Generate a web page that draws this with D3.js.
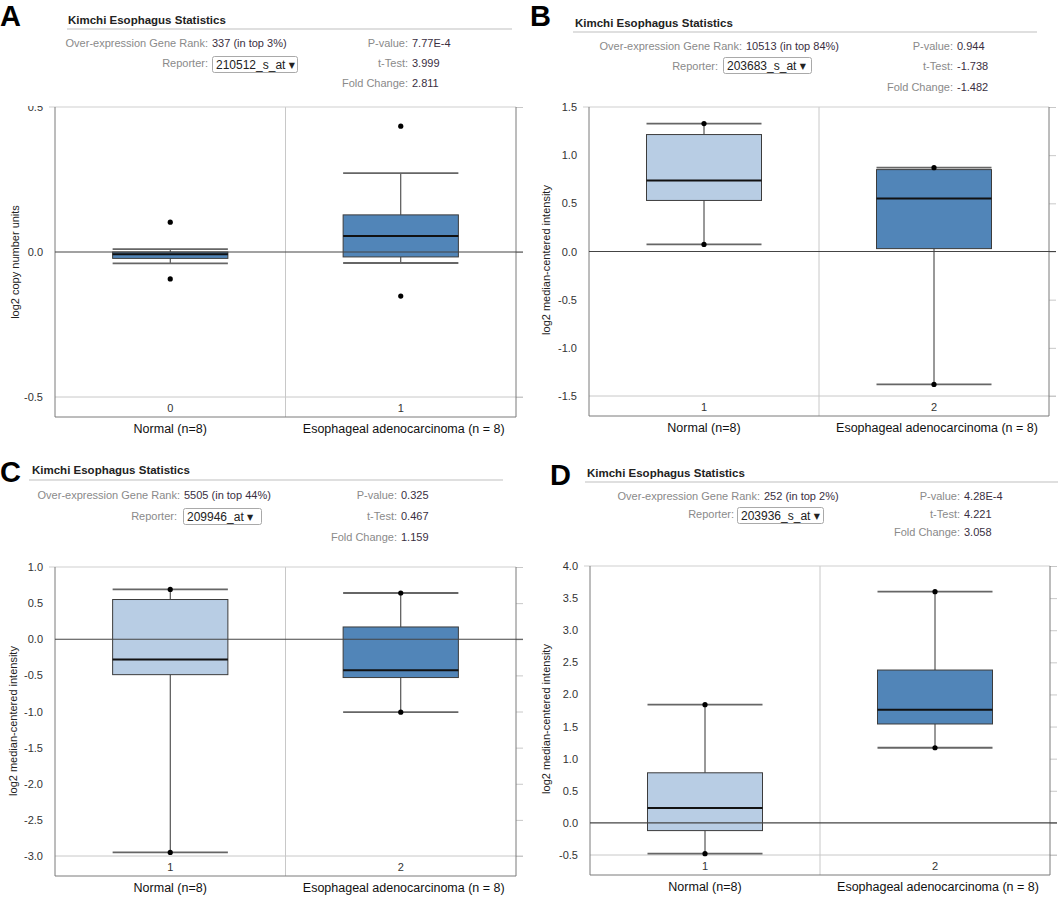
<!DOCTYPE html>
<html>
<head>
<meta charset="utf-8">
<script src="https://cdn.jsdelivr.net/npm/d3@7"></script>
<style>
  body { margin: 0; background: #fff; }
  text { font-family: "Liberation Sans", Arial, sans-serif; }
</style>
</head>
<body>
<svg id="chart" width="1058" height="900"></svg>
<script>
// ---- data ----
const panelLetters = ["A", "B", "C", "D"];
const categories = ["Normal (n=8)", "Esophageal adenocarcinoma (n = 8)"];
const xTickLabels = [["0", "1"], ["1", "2"], ["1", "2"], ["1", "2"]];
const yTitles = ["log2 copy number units", "log2 median-centered intensity",
  "log2 median-centered intensity", "log2 median-centered intensity"];
const yTicks = [
  [-0.5, 0, 0.5],
  [-1.5, -1, -0.5, 0, 0.5, 1, 1.5],
  [-3, -2.5, -2, -1.5, -1, -0.5, 0, 0.5, 1],
  [-0.5, 0, 0.5, 1, 1.5, 2, 2.5, 3, 3.5, 4]
];
const geneRanks = ["337 (in top 3%)", "10513 (in top 84%)", "5505 (in top 44%)", "252 (in top 2%)"];
const reporters = ["210512_s_at", "203683_s_at", "209946_at", "203936_s_at"];
const pValues = ["7.77E-4", "0.944", "0.325", "4.28E-4"];
const tTests = ["3.999", "-1.738", "0.467", "4.221"];
const foldChanges = ["2.811", "-1.482", "1.159", "3.058"];

// per group: [lower whisker, q1, median, q3, upper whisker]
const boxA = [[-0.039, -0.022, -0.008, 0.0, 0.01], [-0.038, -0.017, 0.055, 0.128, 0.272]];
const boxB = [[0.073, 0.53, 0.737, 1.214, 1.328], [-1.38, 0.03, 0.55, 0.85, 0.87]];
const boxC = [[-2.95, -0.49, -0.28, 0.55, 0.69], [-1.01, -0.53, -0.43, 0.17, 0.64]];
const boxD = [[-0.48, -0.12, 0.23, 0.78, 1.84], [1.17, 1.54, 1.76, 2.38, 3.6]];
// plotted points per group
const pointsA = [[0.103, -0.093], [0.434, -0.152]];
const pointsB = [[1.328, 0.073], [0.87, -1.38]];
const pointsC = [[0.69, -2.95], [0.64, -1.01]];
const pointsD = [[1.84, -0.48], [3.6, 1.17]];

const boxes = [boxA, boxB, boxC, boxD];
const points = [pointsA, pointsB, pointsC, pointsD];

// ---- layout ----
const light = "#b8cde4", dark = "#5185b8";
const layout = [
  { letter: [0, 26], title: [68, 24], line: [67, 512, 29], rows: [43, 63, 83], labelR: 208, repR: 208, statR: 408, dd: [212, 56, 85, 16],
    plot: { left: 55, right: 516, top: 107, minY: 397 }, fills: [dark, dark], yTitle: [15, 262], clipTop: 106 },
  { letter: [530, 26], title: [575, 27], line: [573, 1037, 32], rows: [46, 66, 87], labelR: 742, repR: 718, statR: 953, dd: [723, 57, 88, 16],
    plot: { left: 589, right: 1049, top: 107, minY: 396 }, fills: [light, dark], yTitle: [546, 260] },
  { letter: [0, 482], title: [32, 474], line: [29, 503, 480], rows: [495, 516, 537], labelR: 180, repR: 177, statR: 397, dd: [183, 508, 78, 16],
    plot: { left: 55, right: 516, top: 567, minY: 856 }, fills: [light, dark], yTitle: [13, 721] },
  { letter: [550, 485], title: [587, 477], line: [585, 1058, 482], rows: [496, 514, 532], labelR: 760, repR: 734, statR: 960, dd: [737, 507, 86, 16],
    plot: { left: 590, right: 1050, top: 566, minY: 855 }, fills: [light, dark], yTitle: [546, 719] }
];

const svg = d3.select("#chart");
const fmt = v => v.toFixed(1);

layout.forEach((L, i) => {
  const g = svg.append("g");

  // ---- header ----
  g.append("text")
    .attr("x", L.letter[0]).attr("y", L.letter[1])
    .style("font-family", "Arial, 'Liberation Sans', sans-serif")
    .style("font-weight", "bold").style("font-size", "29px").attr("fill", "#000")
    .text(panelLetters[i]);

  g.append("text")
    .attr("x", L.title[0]).attr("y", L.title[1])
    .style("font-weight", "bold").style("font-size", "11.5px").attr("fill", "#222")
    .text("Kimchi Esophagus Statistics");

  g.append("line")
    .attr("x1", L.line[0]).attr("x2", L.line[1])
    .attr("y1", L.line[2]).attr("y2", L.line[2])
    .attr("stroke", "#d4d4d4").attr("stroke-width", 1.5);

  g.append("text")
    .attr("x", L.labelR).attr("y", L.rows[0]).attr("dy", "0.35em")
    .attr("text-anchor", "end").style("font-size", "11px").attr("fill", "#8a8a8a")
    .text("Over-expression Gene Rank:");
  g.append("text")
    .attr("x", L.labelR + 4).attr("y", L.rows[0]).attr("dy", "0.35em")
    .style("font-size", "11px").attr("fill", "#3a2f3f")
    .text(geneRanks[i]);
  g.append("text")
    .attr("x", L.repR).attr("y", L.rows[1]).attr("dy", "0.35em")
    .attr("text-anchor", "end").style("font-size", "11px").attr("fill", "#8a8a8a")
    .text("Reporter:");

  // reporter dropdown
  g.append("rect")
    .attr("x", L.dd[0] + 0.5).attr("y", L.dd[1] + 0.5)
    .attr("width", L.dd[2]).attr("height", L.dd[3]).attr("rx", 2)
    .attr("fill", "#fff").attr("stroke", "#a9a9a9");
  const ddText = g.append("text")
    .attr("x", L.dd[0] + 4).attr("y", L.dd[1] + L.dd[3] / 2 + 0.5).attr("dy", "0.35em")
    .style("font-size", "12px").attr("fill", "#222");
  ddText.append("tspan").text(reporters[i] + " ");
  ddText.append("tspan").style("font-size", "8px").style("font-family", "DejaVu Sans")
    .attr("dy", "-1").text("\u25BC");

  const stats = [["P-value:", pValues[i]], ["t-Test:", tTests[i]], ["Fold Change:", foldChanges[i]]];
  stats.forEach((d, r) => {
    g.append("text")
      .attr("x", L.statR).attr("y", L.rows[r]).attr("dy", "0.35em")
      .attr("text-anchor", "end").style("font-size", "11px").attr("fill", "#8a8a8a")
      .text(d[0]);
    g.append("text")
      .attr("x", L.statR + 4).attr("y", L.rows[r]).attr("dy", "0.35em")
      .style("font-size", "11px").attr("fill", "#3a2f3f")
      .text(d[1]);
  });

  // ---- plot ----
  const P = L.plot;
  const ticks = yTicks[i];
  const y = d3.scaleLinear()
    .domain([d3.min(ticks), d3.max(ticks)])
    .range([P.minY, P.top]);
  const bottom = P.minY + 20;
  const x = d3.scaleBand().domain([0, 1]).range([P.left, P.right]);
  const bw = x.bandwidth() * 0.5;

  // tick labels
  const yWrap = g.append("g");
  if (L.clipTop) {
    const id = "clip" + i;
    svg.append("clipPath").attr("id", id).append("rect")
      .attr("x", 0).attr("y", L.clipTop).attr("width", P.left).attr("height", 900);
    yWrap.attr("clip-path", `url(#${id})`);
  }
  const yAxis = yWrap.append("g")
    .attr("transform", `translate(${P.left - 8},0)`)
    .call(d3.axisLeft(y).tickValues(ticks).tickFormat(fmt).tickSize(0).tickPadding(4));
  yAxis.select(".domain").remove();
  yAxis.selectAll("text").style("font-size", "11px").style("font-family", "'Liberation Sans', Arial, sans-serif")
    .attr("fill", "#333");

  // right-side outward ticks
  const rAxis = g.append("g")
    .attr("transform", `translate(${P.right},0)`)
    .call(d3.axisRight(y).tickValues(ticks).tickFormat("").tickSize(7));
  rAxis.select(".domain").remove();
  rAxis.selectAll("line").attr("stroke", "#c8c8c8");

  // lowest gridline
  g.append("line")
    .attr("x1", P.left).attr("x2", P.right + 7)
    .attr("y1", y(d3.min(ticks))).attr("y2", y(d3.min(ticks)))
    .attr("stroke", "#c8c8c8");

  // group separator
  g.append("line")
    .attr("x1", x(1)).attr("x2", x(1))
    .attr("y1", P.top).attr("y2", bottom)
    .attr("stroke", "#c8c8c8");

  // frame
  g.append("line").attr("x1", P.left - 6).attr("x2", P.right)
    .attr("y1", P.top).attr("y2", P.top).attr("stroke", "#cfcfcf");
  g.append("path")
    .attr("d", `M${P.left},${P.top}V${bottom}H${P.right}V${P.top}`)
    .attr("fill", "none").attr("stroke", "#7a7a7a");

  // boxes
  boxes[i].forEach((s, k) => {
    const cx = x(k) + x.bandwidth() / 2;
    const bg = g.append("g");
    // whiskers
    bg.append("line").attr("x1", cx).attr("x2", cx)
      .attr("y1", y(s[0])).attr("y2", y(s[1])).attr("stroke", "#333");
    bg.append("line").attr("x1", cx).attr("x2", cx)
      .attr("y1", y(s[3])).attr("y2", y(s[4])).attr("stroke", "#333");
    [s[0], s[4]].forEach(v => {
      bg.append("line")
        .attr("x1", cx - bw / 2).attr("x2", cx + bw / 2)
        .attr("y1", y(v)).attr("y2", y(v))
        .attr("stroke", "#666").attr("stroke-width", 1.8);
    });
    bg.append("rect")
      .attr("x", cx - bw / 2).attr("y", y(s[3]))
      .attr("width", bw).attr("height", Math.max(1, y(s[1]) - y(s[3])))
      .attr("fill", L.fills[k]).attr("stroke", "#3c3c3c");
    bg.append("line")
      .attr("x1", cx - bw / 2).attr("x2", cx + bw / 2)
      .attr("y1", y(s[2])).attr("y2", y(s[2]))
      .attr("stroke", "#111").attr("stroke-width", 2);
    points[i][k].forEach(v => {
      bg.append("circle").attr("cx", cx).attr("cy", y(v)).attr("r", 2.6).attr("fill", "#000");
    });

    // x tick label and category label
    g.append("text")
      .attr("x", cx).attr("y", y(d3.min(ticks)) + 11).attr("dy", "0.35em")
      .attr("text-anchor", "middle").style("font-size", "11px").attr("fill", "#333")
      .text(xTickLabels[i][k]);
    g.append("text")
      .attr("x", cx + (k === 1 ? 3 : 0)).attr("y", bottom + 12).attr("dy", "0.35em")
      .attr("text-anchor", "middle")
      .style("font-family", "Arial, 'Liberation Sans', sans-serif")
      .style("font-size", "12.5px").attr("fill", "#111")
      .text(categories[k]);
  });

  // zero line on top
  g.append("line")
    .attr("x1", P.left).attr("x2", P.right + 7)
    .attr("y1", y(0)).attr("y2", y(0))
    .attr("stroke", "#444").attr("stroke-width", 1.2);

  // y title
  g.append("text")
    .attr("transform", `translate(${L.yTitle[0]},${L.yTitle[1]}) rotate(-90)`)
    .attr("dy", "0.35em").attr("text-anchor", "middle")
    .style("font-size", "11px").attr("fill", "#222")
    .text(yTitles[i]);
});
</script>
</body>
</html>
